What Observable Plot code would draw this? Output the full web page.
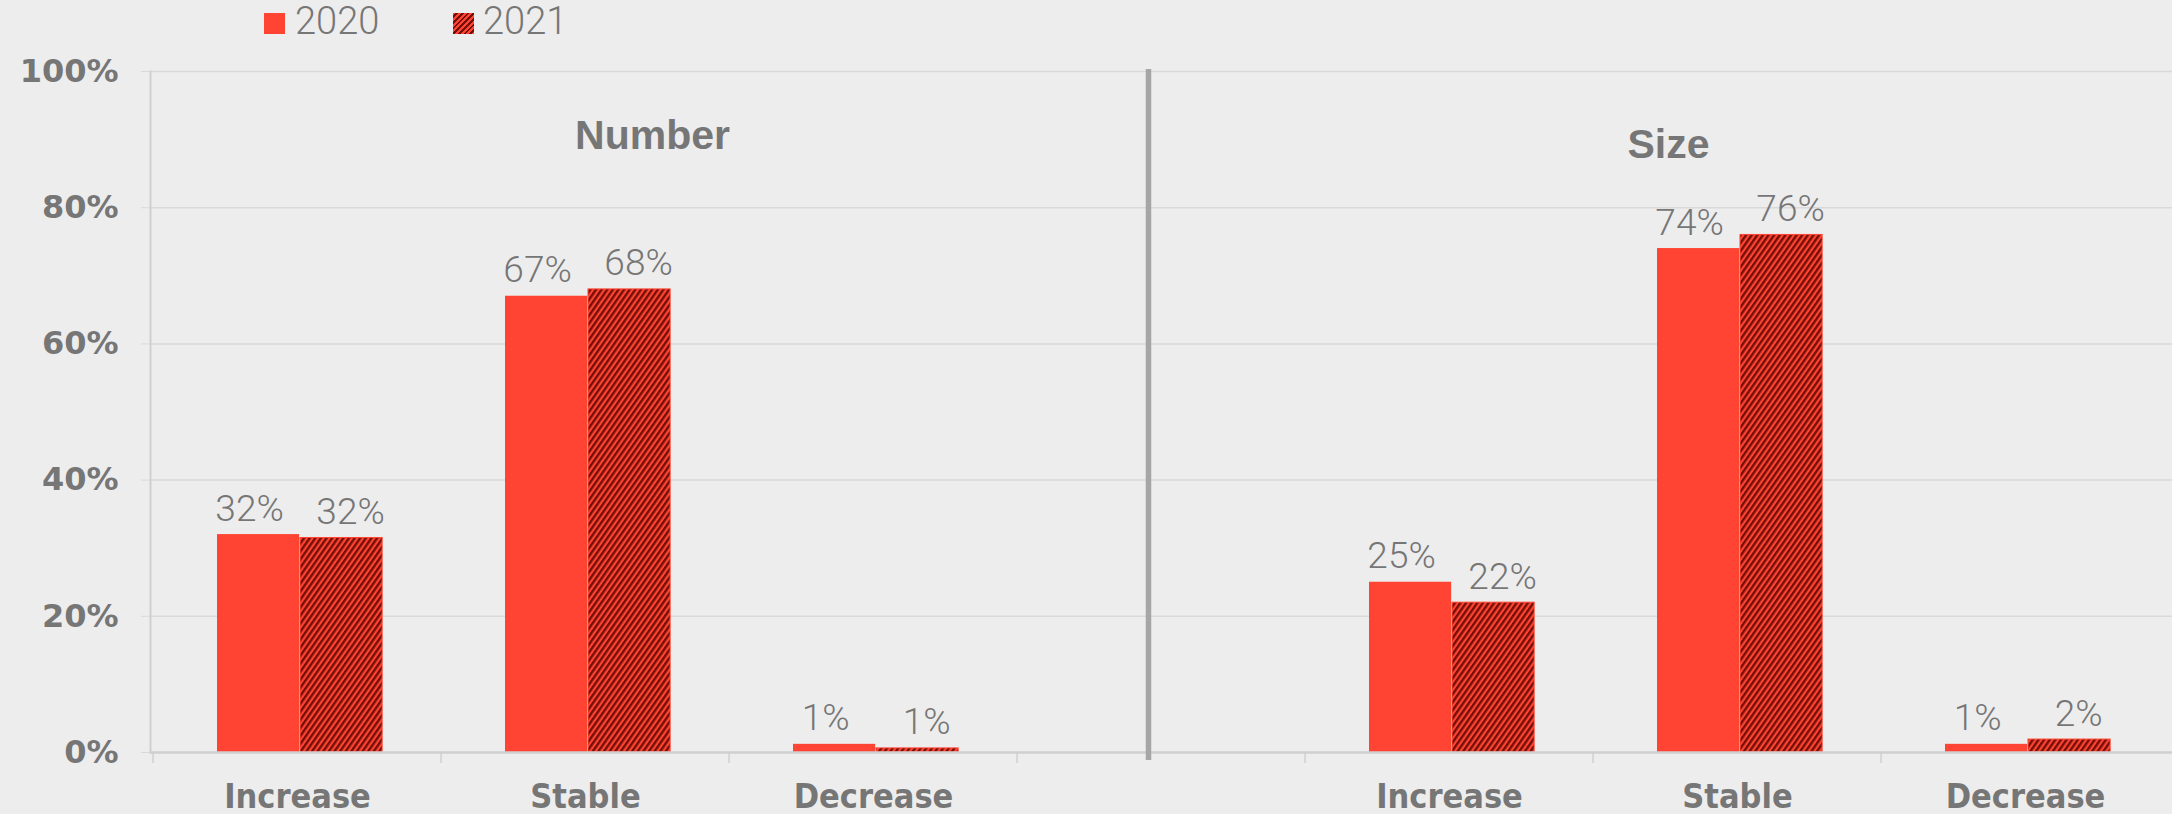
<!DOCTYPE html>
<html>
<head>
<meta charset="utf-8">
<script src="https://cdn.jsdelivr.net/npm/d3@7"></script>
<script src="https://cdn.jsdelivr.net/npm/@observablehq/plot@0.6"></script>
<style>
  html, body { margin: 0; padding: 0; background: #EDEDED; }
  #wrap { width: 2172px; height: 814px; position: relative; overflow: hidden; background: #EDEDED; }
  #legend { height: 48px; position: relative; font-family: Roboto, "Noto Sans", sans-serif; font-weight: 300; font-size: 38px; color: #767676; }
  .sw { position: absolute; top: 13px; width: 21px; height: 21px; }
  .lt { position: absolute; top: -3px; line-height: 48px; }
  svg { display: block; }
</style>
</head>
<body>
<div id="wrap">
  <div id="legend"></div>
  <div id="chart"></div>
</div>
<script>
// ---- data ----
const panels = ["Number", "Size"];
const categories = ["Increase", "Stable", "Decrease"];
const years = ["2020", "2021"];
const number2020 = [32, 67, 1.2];
const number2021 = [31.5, 68, 0.6];
const size2020 = [25, 74, 1.2];
const size2021 = [22, 76, 1.9];
const yTicks = [0, 20, 40, 60, 80, 100];

const RED = "#FF4433";
const DARK = "#730F06";
const GRAY = "#767676";

// x domain: one slot per category per panel, with an empty slot between panels
const key = (p, c) => p + "|" + c;
const xDomain = [
  ...categories.map(c => key(panels[0], c)),
  "gap",
  ...categories.map(c => key(panels[1], c))
];

const rows = [];
const series = {Number: {"2020": number2020, "2021": number2021}, Size: {"2020": size2020, "2021": size2021}};
for (const p of panels) for (const y of years) categories.forEach((c, i) => {
  rows.push({panel: p, year: y, category: c, key: key(p, c), value: series[p][y][i]});
});
const r2020 = rows.filter(d => d.year === years[0]);
const r2021 = rows.filter(d => d.year === years[1]);

// ---- legend ----
const legend = document.getElementById("legend");
legend.innerHTML = `
  <div class="sw" style="left:264px;background:${RED}"></div>
  <div class="lt" style="left:295px">${years[0]}</div>
  <div class="sw" style="left:453px;background:repeating-linear-gradient(135deg, ${RED} 0 2px, ${DARK} 2px 4px)"></div>
  <div class="lt" style="left:483px">${years[1]}</div>`;

const W = 2172, H = 766, ML = 150;
const step = (W - ML) / xDomain.length;
const half = step / 2;

const svg = Plot.plot({
  width: W,
  height: H,
  marginTop: 23,
  marginBottom: 62,
  marginLeft: ML,
  marginRight: 0,
  style: {background: "#EDEDED", color: GRAY, overflow: "visible"},
  x: {type: "band", domain: xDomain, padding: 0, axis: null, label: null},
  y: {domain: [0, 100], axis: null, label: null},
  marks: [
    // gridlines
    Plot.ruleY(yTicks.filter(t => t > 0), {stroke: "#D9D9D9", strokeWidth: 1.5}),
    // y axis ticks + labels
    Plot.axisY({ticks: yTicks, tickSize: 9, tickPadding: 23, tickFormat: d => d + "%", label: null,
      stroke: "#D9D9D9", fill: GRAY, fontSize: 32, fontWeight: "bold", fontFamily: "DejaVu Sans"}),
    // left axis line
    Plot.frame({anchor: "left", stroke: "#D0D0D0", strokeWidth: 2}),
    // category boundary ticks
    Plot.axisX({tickSize: 11, dx: -half, text: null, label: null, stroke: "#CFCFCF", strokeWidth: 1.5}),
    // category labels
    Plot.axisX({tickSize: 0, tickPadding: 31, label: null, tickFormat: d => d === "gap" ? "" : d.split("|")[1],
      fill: GRAY, fontSize: 34, fontWeight: "bold", fontFamily: "'DejaVu Sans Condensed', 'Liberation Sans Narrow', Roboto, sans-serif"}),
    // bars
    Plot.barY(r2020, {x: "key", y: "value", fill: RED, insetLeft: 64, insetRight: step - 64 - 83}),
    Plot.barY(r2021, {x: "key", y: "value", fill: "url(#hatch)", stroke: RED, strokeWidth: 1, insetLeft: 147, insetRight: step - 147 - 83}),
    // baseline
    Plot.ruleY([0], {stroke: "#CFCFCF", strokeWidth: 2.5}),
    // divider between panels
    Plot.ruleX(["gap"], {dx: -13, stroke: "#A6A6A6", strokeWidth: 5.5, insetBottom: -8, insetTop: -2}),
    // value labels
    Plot.text(r2020, {x: "key", y: "value", text: d => Math.round(d.value) + "%", dx: -half + 64 + 41.5 - 9, dy: -14,
      lineAnchor: "bottom", fill: GRAY, fontSize: 37, fontWeight: 300, fontFamily: "Roboto, sans-serif"}),
    Plot.text(r2021, {x: "key", y: "value", text: d => Math.round(d.value) + "%", dx: -half + 147 + 41.5 + 9, dy: -14,
      lineAnchor: "bottom", fill: GRAY, fontSize: 37, fontWeight: 300, fontFamily: "Roboto, sans-serif"}),
    // panel titles
    Plot.text([panels[0]], {x: () => key(panels[0], categories[1]), text: d => d, frameAnchor: "top", dx: 67, dy: 77,
      lineAnchor: "bottom", fill: GRAY, fontSize: 41, fontWeight: "bold", fontFamily: "'Liberation Sans', Arial, sans-serif"}),
    Plot.text([panels[1]], {x: () => key(panels[1], categories[1]), text: d => d, frameAnchor: "top", dx: -69, dy: 86,
      lineAnchor: "bottom", fill: GRAY, fontSize: 41, fontWeight: "bold", fontFamily: "'Liberation Sans', Arial, sans-serif"})
  ]
});

const ns = "http://www.w3.org/2000/svg";
const defs = document.createElementNS(ns, "defs");
defs.innerHTML = `<pattern id="hatch" patternUnits="userSpaceOnUse" width="4.6" height="8" patternTransform="rotate(35)">
  <rect width="4.6" height="8" fill="${RED}"></rect><rect width="2.4" height="8" fill="${DARK}"></rect></pattern>`;
svg.insertBefore(defs, svg.firstChild);
document.getElementById("chart").appendChild(svg);
</script>
</body>
</html>
